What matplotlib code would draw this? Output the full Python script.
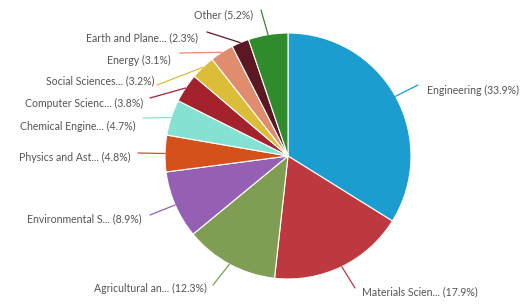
import matplotlib
matplotlib.use("Agg")
import matplotlib.pyplot as plt
import numpy as np

categories = ["Engineering", "Materials Scien...", "Agricultural an...", "Environmental S...",
              "Physics and Ast...", "Chemical Engine...", "Computer Scienc...", "Social Sciences...",
              "Energy", "Earth and Plane...", "Other"]
values = [33.9, 17.9, 12.3, 8.9, 4.8, 4.7, 3.8, 3.2, 3.1, 2.3, 5.2]
colors = ["#1b9dd0", "#be393f", "#7f9e54", "#9560b4", "#d5511c", "#84e2d2",
          "#a3222c", "#dcbd38", "#e08c6e", "#5b1722", "#2f8b2b"]

# label layout in image pixels (x, y from top): line end, text anchor, alignment
line_end = [(418, 85), (355, 288), (213, 285), (150, 215), (138, 153), (143, 118),
            (150, 98), (157, 85), (180, 53), (207, 32), (261, 10)]
text_pos = [(427, 90), (362, 292), (207, 288), (142, 219), (131, 157), (136, 126),
            (143, 103), (155, 81), (171, 60), (198, 38), (253, 15)]
text_ha = ["left", "left", "right", "right", "right", "right", "right", "right", "right", "right", "right"]

W, H = 526, 306
cx, cy, R = 288, 156, 123

fig = plt.figure(figsize=(W / 100, H / 100), dpi=100)
ax = fig.add_axes([0, 0, 1, 1])
ax.set_xlim(0, W)
ax.set_ylim(0, H)
ax.set_aspect("equal")
ax.axis("off")

wedges, _ = ax.pie(values, colors=colors, startangle=90, counterclock=False,
                   center=(cx, H - cy), radius=R,
                   wedgeprops=dict(edgecolor="white", linewidth=0.8))
ax.set_xlim(0, W)
ax.set_ylim(0, H)

for w, c, lab, v, le, tp, ha in zip(wedges, colors, categories, values, line_end, text_pos, text_ha):
    ang = np.deg2rad((w.theta1 + w.theta2) / 2)
    x0 = cx + R * np.cos(ang)
    y0 = (H - cy) + R * np.sin(ang)
    ax.plot([x0, le[0]], [y0, H - le[1]], color=c, lw=0.9, solid_capstyle="round")
    ax.text(tp[0], H - tp[1], f"{lab} ({v}%)", ha=ha, va="center",
            fontsize=7.6, color="#555555", family="Lato")

fig.savefig("out.png", dpi=100)
